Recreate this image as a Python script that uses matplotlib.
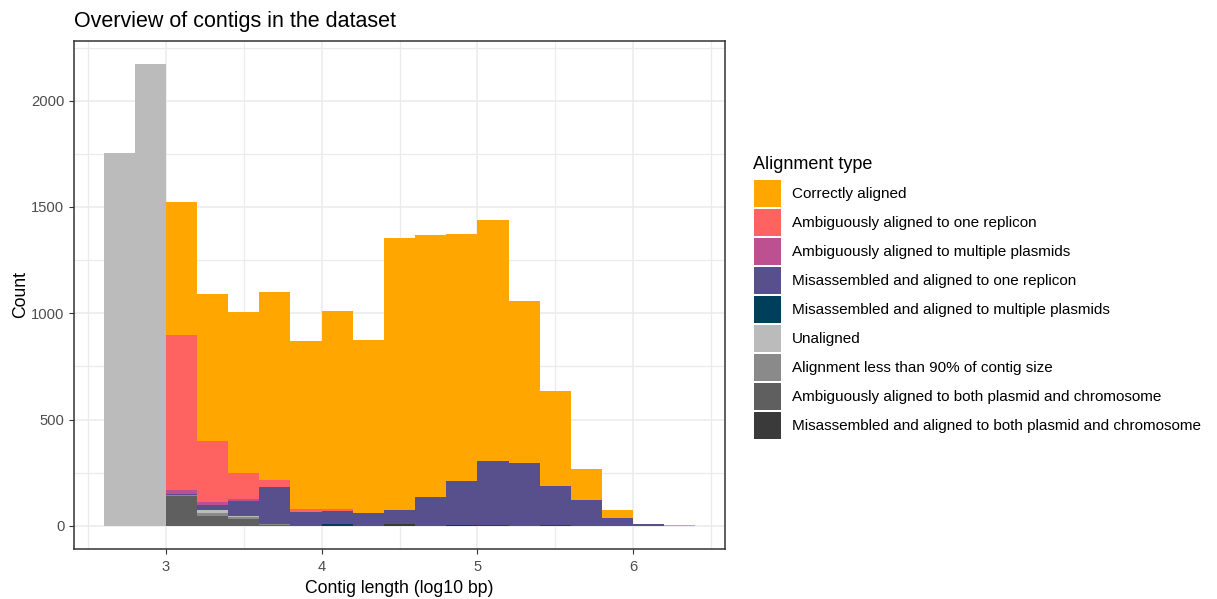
import numpy as np
import matplotlib
matplotlib.use("Agg")
import matplotlib.pyplot as plt
from matplotlib.patches import Patch

plt.rcParams['font.family'] = ['Liberation Sans', 'DejaVu Sans']

# left edges of the log10 length bins (binwidth 0.2)
bin_left = [2.6, 2.8, 3.0, 3.2, 3.4, 3.6, 3.8, 4.0, 4.2, 4.4,
            4.6, 4.8, 5.0, 5.2, 5.4, 5.6, 5.8, 6.0, 6.2]
binwidth = 0.2

# counts per category, bin by bin
correct      = [0, 0, 626, 691, 755, 882, 790, 929, 811, 1276, 1229, 1163, 1131, 759, 445, 146, 37, 0, 3]
amb_one      = [0, 0, 729, 287, 123, 33, 12, 9, 0, 0, 0, 0, 0, 0, 0, 0, 0, 0, 0]
amb_multi    = [0, 0, 18, 14, 9, 0, 0, 0, 0, 0, 0, 0, 0, 0, 0, 0, 0, 0, 0]
mis_one      = [0, 0, 4, 23, 70, 177, 67, 64, 62, 69, 137, 209, 301, 297, 186, 123, 39, 7, 0]
mis_multi    = [0, 0, 0, 0, 0, 0, 0, 7, 0, 0, 0, 3, 0, 0, 0, 0, 0, 0, 0]
unaligned    = [1755, 2172, 3, 14, 5, 0, 0, 0, 0, 0, 0, 0, 0, 0, 0, 0, 0, 0, 0]
less90       = [0, 0, 4, 14, 9, 5, 0, 0, 0, 0, 0, 0, 0, 0, 0, 0, 0, 0, 0]
amb_both     = [0, 0, 140, 48, 34, 2, 0, 0, 0, 0, 0, 0, 0, 0, 0, 0, 0, 0, 0]
mis_both     = [0, 0, 0, 0, 0, 0, 0, 0, 0, 7, 0, 0, 5, 0, 3, 0, 0, 0, 0]

labels = ["Correctly aligned",
          "Ambiguously aligned to one replicon",
          "Ambiguously aligned to multiple plasmids",
          "Misassembled and aligned to one replicon",
          "Misassembled and aligned to multiple plasmids",
          "Unaligned",
          "Alignment less than 90% of contig size",
          "Ambiguously aligned to both plasmid and chromosome",
          "Misassembled and aligned to both plasmid and chromosome"]
colors = ["#FFA600", "#FF6361", "#BC5090", "#58508D", "#003F5C",
          "#BBBBBB", "#8A8A8A", "#5F5F5F", "#3A3A3A"]
series = [correct, amb_one, amb_multi, mis_one, mis_multi,
          unaligned, less90, amb_both, mis_both]

W, H = 1217, 599
fig = plt.figure(figsize=(W/100, H/100), dpi=100)
ax = fig.add_axes([74/W, 1-549/H, (725-74)/W, (549-41)/H])

# ggplot stacks the first level on top, so draw from the last one up
bottom = np.zeros(len(bin_left))
for vals, col in zip(series[::-1], colors[::-1]):
    v = np.array(vals, dtype=float)
    ax.bar(bin_left, v, width=binwidth, bottom=bottom, align='edge',
           color=col, linewidth=0, zorder=2)
    bottom += v

xmin, xmax = bin_left[0], bin_left[-1] + binwidth
pad = 0.05 * (xmax - xmin)
ax.set_xlim(xmin - pad, xmax + pad)
ax.set_ylim(-0.05 * bottom.max(), 1.05 * bottom.max())

ax.set_xticks([3, 4, 5, 6])
ax.set_xticks([2.5, 3.5, 4.5, 5.5, 6.5], minor=True)
ax.set_yticks([0, 500, 1000, 1500, 2000])
ax.set_yticks([250, 750, 1250, 1750, 2250], minor=True)
ax.grid(which='major', color='#EBEBEB', linewidth=1.1, zorder=0)
ax.grid(which='minor', color='#EBEBEB', linewidth=0.9, zorder=0)
ax.set_axisbelow(True)
ax.tick_params(which='major', length=3.5, width=0.8, color='#333333',
               labelcolor='#4D4D4D', labelsize=10.6, pad=3.5)
ax.tick_params(axis='x', which='major', pad=4.5)
ax.tick_params(which='minor', length=0)
for s in ax.spines.values():
    s.set_color('#333333')
    s.set_linewidth(1.1)

ax.set_xlabel("Contig length (log10 bp)", fontsize=12.7, labelpad=4)
ax.set_ylabel("Count", fontsize=12.7, labelpad=1.5)
ax.set_title("Overview of contigs in the dataset", fontsize=15.5, loc='left', pad=10)

# legend: title as its own text so the gap to the keys matches
fig.text(753/W, 1-169/H, "Alignment type", fontsize=13, va='baseline', ha='left')
fs = 11.0
fs_px = fs * 100 / 72
key = 27 / fs_px
handles = [Patch(facecolor=c, edgecolor='none') for c in colors]
leg = fig.legend(handles, labels, loc='upper left',
                 bbox_to_anchor=(754/W, 1-180/H), frameon=False,
                 fontsize=fs, handlelength=key,
                 handleheight=(key - 0.245) / 0.65, labelspacing=2 / fs_px,
                 handletextpad=11 / fs_px, borderpad=0, borderaxespad=0)

fig.savefig("out.png", dpi=100)
